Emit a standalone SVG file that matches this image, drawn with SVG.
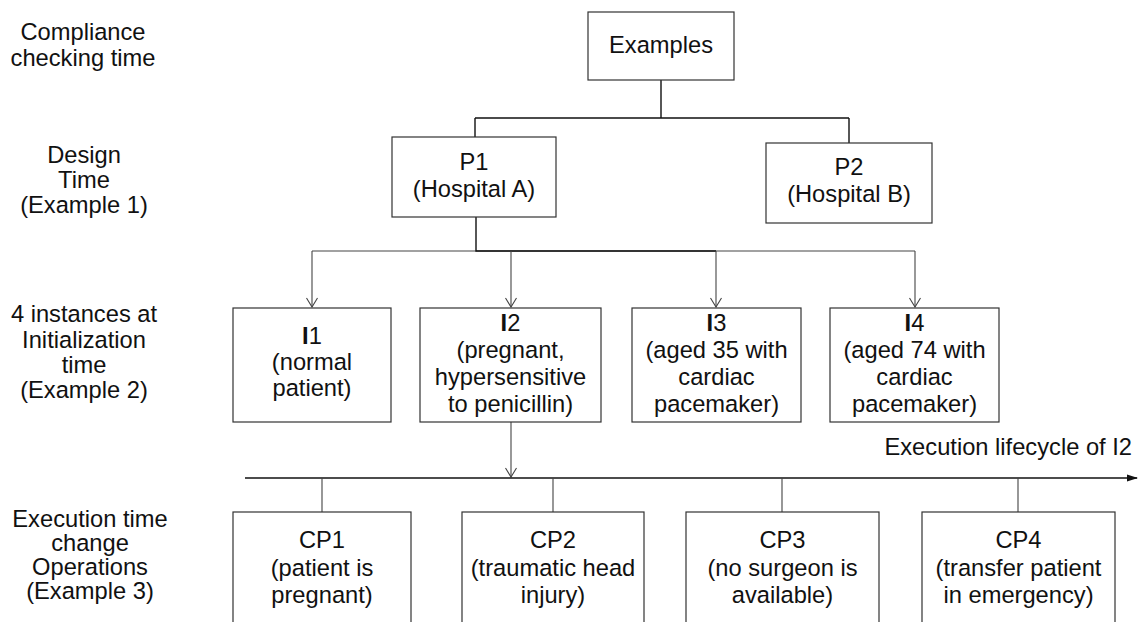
<svg xmlns="http://www.w3.org/2000/svg" width="1138" height="622" viewBox="0 0 1138 622">
<style>
text{font-family:"Liberation Sans",Arial,sans-serif;font-size:23.7px;fill:#111;text-anchor:middle}
.box{fill:#fff;stroke:#333;stroke-width:1.2}
.ln{fill:none;stroke:#444;stroke-width:1.1}
.bk{fill:none;stroke:#111;stroke-width:1.4}
.b{font-weight:bold}
</style>
<defs>
<marker id="v" viewBox="0 0 12 12" refX="11" refY="6" markerWidth="12" markerHeight="12" markerUnits="userSpaceOnUse" orient="auto">
<path d="M2,0.5 L11,6 L2,11.5" fill="none" stroke="#444" stroke-width="1.1"/>
</marker>
<marker id="tri" viewBox="0 0 11 8" refX="10" refY="4" markerWidth="11" markerHeight="8" markerUnits="userSpaceOnUse" orient="auto">
<path d="M0,0.5 L11,4 L0,7.5 Z" fill="#111"/>
</marker>
</defs>
<rect width="1138" height="622" fill="#fff"/>
<g id="labels">
<text x="83" y="40">Compliance</text>
<text x="83" y="66">checking time</text>
<text x="84" y="163">Design</text>
<text x="84" y="188">Time</text>
<text x="84" y="213">(Example 1)</text>
<text x="84" y="322">4 instances at</text>
<text x="84" y="348">Initialization</text>
<text x="84" y="373">time</text>
<text x="84" y="398">(Example 2)</text>
<text x="90" y="527">Execution time</text>
<text x="90" y="551">change</text>
<text x="90" y="575">Operations</text>
<text x="90" y="599">(Example 3)</text>
</g>
<g id="connectors">
<path class="bk" d="M661,80 V118 M475,118 H849 M475,118 V137 M849,118 V143"/>
<path class="ln" d="M312,251 H915"/>
<path class="bk" d="M476,217 V251 H716"/>
<path class="ln" marker-end="url(#v)" d="M312,251 V307"/>
<path class="ln" marker-end="url(#v)" d="M511,251 V307"/>
<path class="ln" marker-end="url(#v)" d="M716,251 V307"/>
<path class="ln" marker-end="url(#v)" d="M915,251 V307"/>
<path class="ln" marker-end="url(#v)" d="M511,422 V477"/>
<path class="bk" marker-end="url(#tri)" d="M245,478 H1137"/>
<path class="ln" d="M322,478 V512 M553,478 V512 M782,478 V512 M1018,478 V512"/>
<text x="1132" y="455" style="text-anchor:end">Execution lifecycle of I2</text>
</g>
<g id="examples"><rect class="box" x="588" y="12" width="146" height="68"/><text x="661" y="53">Examples</text></g>
<g id="p1"><rect class="box" x="392" y="137" width="164" height="80"/><text x="474" y="170">P1</text><text x="474" y="197">(Hospital A)</text></g>
<g id="p2"><rect class="box" x="766" y="143" width="166" height="80"/><text x="849" y="175">P2</text><text x="849" y="202">(Hospital B)</text></g>
<g id="i1"><rect class="box" x="233" y="308" width="158" height="114"/><text x="312" y="344"><tspan class="b">I</tspan>1</text><text x="312" y="370">(normal</text><text x="312" y="396">patient)</text></g>
<g id="i2"><rect class="box" x="420" y="308" width="181" height="114"/><text x="510.5" y="331"><tspan class="b">I</tspan>2</text><text x="510.5" y="358">(pregnant,</text><text x="510.5" y="385">hypersensitive</text><text x="510.5" y="412">to penicillin)</text></g>
<g id="i3"><rect class="box" x="632" y="308" width="169" height="114"/><text x="716.5" y="331"><tspan class="b">I</tspan>3</text><text x="716.5" y="358">(aged 35 with</text><text x="716.5" y="385">cardiac</text><text x="716.5" y="412">pacemaker)</text></g>
<g id="i4"><rect class="box" x="830" y="308" width="169" height="114"/><text x="914.5" y="331"><tspan class="b">I</tspan>4</text><text x="914.5" y="358">(aged 74 with</text><text x="914.5" y="385">cardiac</text><text x="914.5" y="412">pacemaker)</text></g>
<g id="cp1"><rect class="box" x="233" y="512" width="178" height="130"/><text x="322" y="548">CP1</text><text x="322" y="576">(patient is</text><text x="322" y="603">pregnant)</text></g>
<g id="cp2"><rect class="box" x="462" y="512" width="182" height="130"/><text x="553" y="548">CP2</text><text x="553" y="576">(traumatic head</text><text x="553" y="603">injury)</text></g>
<g id="cp3"><rect class="box" x="686" y="512" width="193" height="130"/><text x="782.5" y="548">CP3</text><text x="782.5" y="576">(no surgeon is</text><text x="782.5" y="603">available)</text></g>
<g id="cp4"><rect class="box" x="922" y="512" width="193" height="130"/><text x="1018.5" y="548">CP4</text><text x="1018.5" y="576">(transfer patient</text><text x="1018.5" y="603">in emergency)</text></g>
</svg>
